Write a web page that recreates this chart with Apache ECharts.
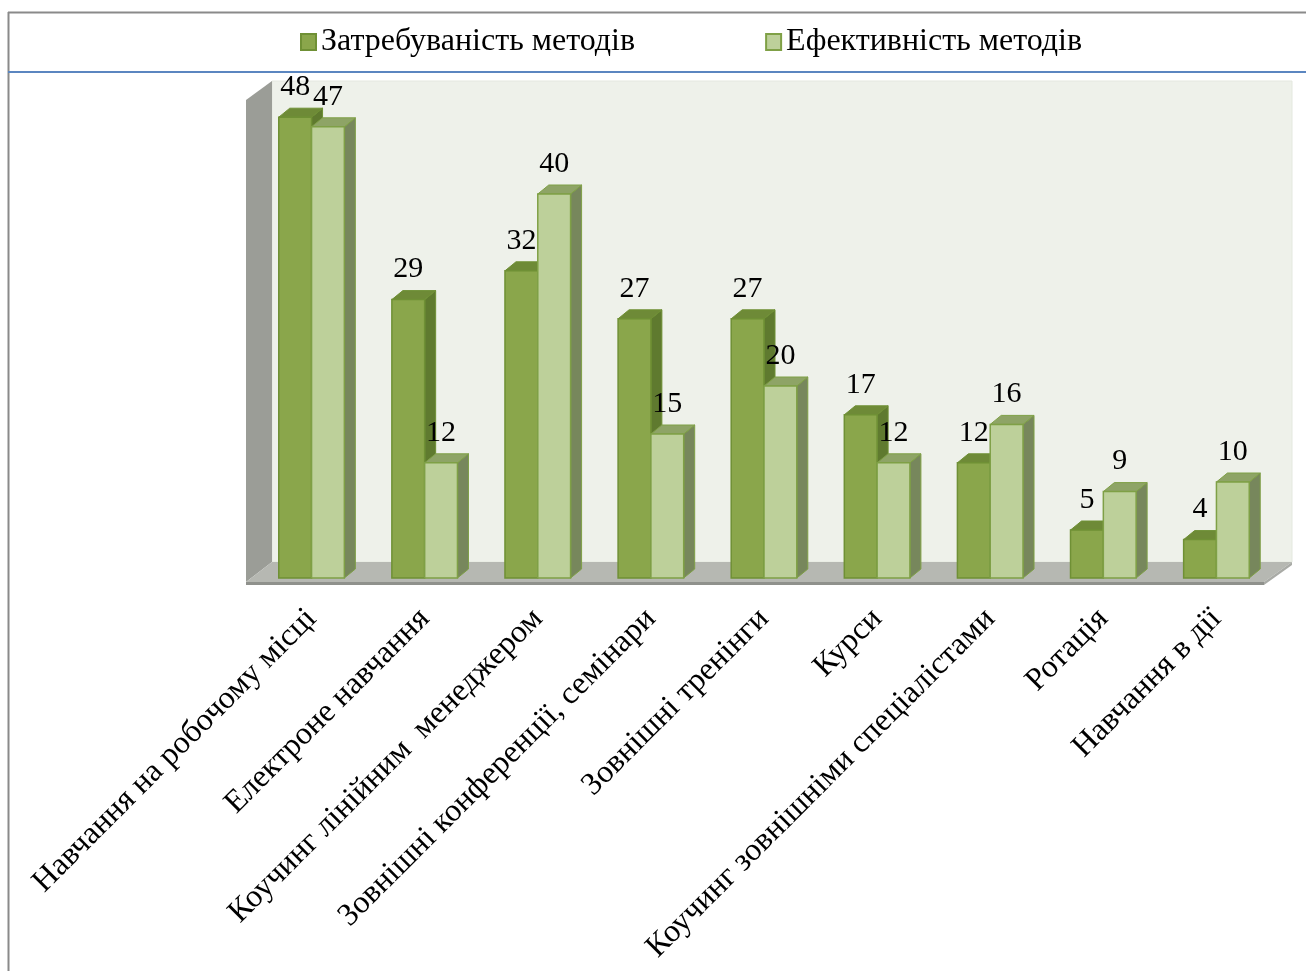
<!DOCTYPE html>
<html><head><meta charset="utf-8">
<script src="https://cdn.jsdelivr.net/npm/echarts@6/dist/echarts.min.js"></script>
<style>html,body{margin:0;padding:0;background:#fff}#c{width:1306px;height:971px}</style>
</head><body><div id="c"></div>
<script>
const categories = ['Навчання на робочому місці','Електроне навчання','Коучинг лінійним  менеджером','Зовнішні конференції, семінари','Зовнішні тренінги','Курси','Коучинг зовнішніми спеціалістами','Ротація','Навчання в дії'];
const demand = [48,29,32,27,27,17,12,5,4];
const effect = [47,12,40,15,20,12,16,9,10];
const seriesNames = ['Затребуваність методів','Ефективність методів'];
const yMax = 50;

const FONT = "'Liberation Serif','Times New Roman',serif";
const DX = 11, DY = -9;
const pal = [
  {front:'#8aa64b', top:'#6e8a37', side:'#5f7a2f', border:'#6f9035'},
  {front:'#bdd09a', top:'#8ea466', side:'#77875c', border:'#7fa046'}
];

function barRender(s){
  return function(params, api){
    const idx = api.value(0), val = api.value(1);
    const b = api.coord([idx, 0]);
    const t = api.coord([idx, val]);
    const band = api.size([1,0])[0];
    const w = band*0.29;
    const x0 = s===0 ? b[0]-w : b[0];
    const x1 = x0+w, ty=t[1], by=b[1];
    const c = pal[s];
    return {type:'group', children:[
      {type:'polygon', shape:{points:[[x1,ty],[x1+DX,ty+DY],[x1+DX,by+DY],[x1,by]]}, style:{fill:c.side, stroke:c.border, lineWidth:1}},
      {type:'polygon', shape:{points:[[x0,ty],[x0+DX,ty+DY],[x1+DX,ty+DY],[x1,ty]]}, style:{fill:c.top, stroke:c.border, lineWidth:1}},
      {type:'rect', shape:{x:x0, y:ty, width:w, height:by-ty}, style:{fill:c.front, stroke:c.border, lineWidth:1.5}},
      {type:'text', z2:100, style:{text:String(val), x:x0+w/2, y:ty+DY-6, align:'center', verticalAlign:'bottom', font:'30px '+FONT, fill:'#000'}}
    ]};
  };
}

function wallRender(params, api){
  const cs = params.coordSys;
  const L = cs.x, R = cs.x+cs.width;
  const y0 = api.coord([0,0])[1];
  const y50 = api.coord([0,yMax])[1];
  return {type:'group', children:[
    {type:'rect', shape:{x:L+17, y:y50-17, width:R+2-L, height:(y0-16)-(y50-17)}, style:{fill:'#eef1ea', stroke:'#e4e8df', lineWidth:1}},
    {type:'polygon', shape:{points:[[L-9,y50+2],[L+17,y50-17],[L+17,y0-16],[L-9,y0+4]]}, style:{fill:'#9b9d97'}},
    {type:'polygon', shape:{points:[[L-9,y0+4],[L+17,y0-16],[R+19,y0-16],[R-9,y0+4]]}, style:{fill:'#b6b8b2'}},
    {type:'polygon', shape:{points:[[L-9,y0+4],[R-9,y0+4],[R-9,y0+7],[L-9,y0+7]]}, style:{fill:'#8f918c'}},
    {type:'polygon', shape:{points:[[R-9,y0+4],[R+19,y0-16],[R+19,y0-13],[R-9,y0+7]]}, style:{fill:'#a9aba6'}}
  ]};
}

const chart = echarts.init(document.getElementById('c'), null, {renderer:'canvas'});
chart.setOption({
  animation:false,
  backgroundColor:'#fff',
  graphic:[
    {type:'line', shape:{x1:8,y1:12.5,x2:1306,y2:12.5}, style:{stroke:'#8a8a8a', lineWidth:2}},
    {type:'line', shape:{x1:8.5,y1:12,x2:8.5,y2:971}, style:{stroke:'#8a8a8a', lineWidth:2}},
    {type:'line', shape:{x1:8,y1:72,x2:1306,y2:72}, style:{stroke:'#5b86c0', lineWidth:2}}
  ],
  legend:{
    left:295, top:21, itemWidth:15, itemHeight:16, itemGap:130, icon:'rect',
    data:seriesNames,
    textStyle:{fontFamily:FONT, fontSize:32, color:'#000'}
  },
  grid:{left:255, right:33, top:98, bottom:393},
  xAxis:{type:'category', data:categories,
    axisLine:{show:false}, axisTick:{show:false},
    axisLabel:{interval:0, rotate:45, margin:36, fontFamily:FONT, fontSize:32, color:'#000'}},
  yAxis:{type:'value', min:0, max:yMax, interval:10, show:false, splitLine:{show:false}},
  series:[
    {type:'custom', name:'walls', silent:true, renderItem:wallRender, data:[[0,0]], z:1},
    {type:'custom', name:seriesNames[0], renderItem:barRender(0), data:demand.map((v,i)=>[i,v]), z:2,
      itemStyle:{color:pal[0].front, borderColor:pal[0].border, borderWidth:1}},
    {type:'custom', name:seriesNames[1], renderItem:barRender(1), data:effect.map((v,i)=>[i,v]), z:3,
      itemStyle:{color:pal[1].front, borderColor:pal[1].border, borderWidth:1}}
  ]
});
</script></body></html>
